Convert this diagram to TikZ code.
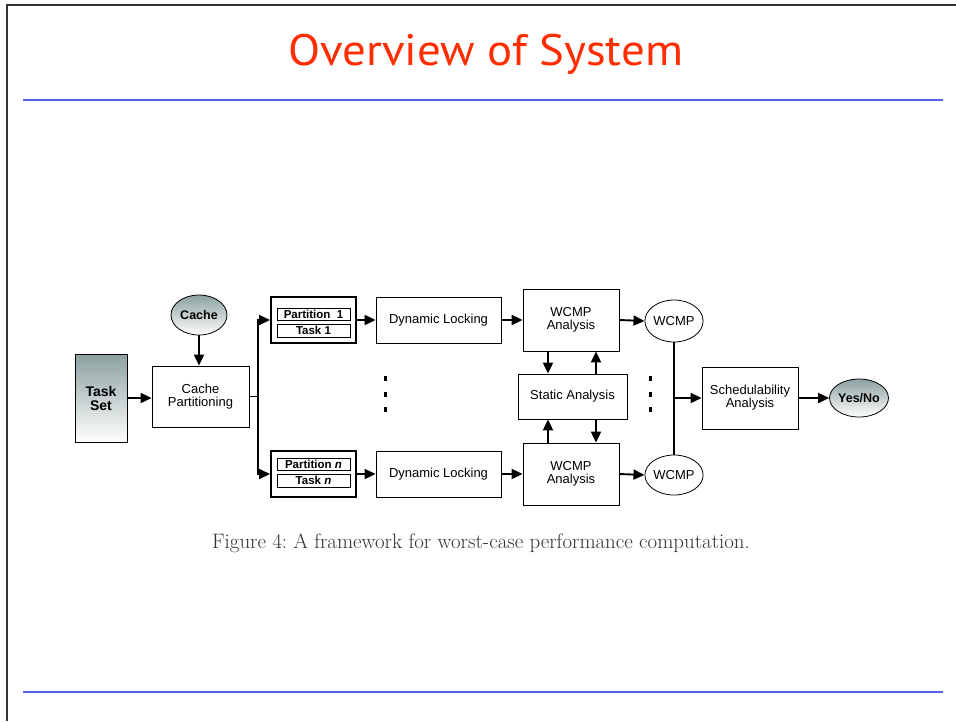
\documentclass[tikz,border=0pt]{standalone}
\usepackage{fontspec}
\usetikzlibrary{arrows.meta,shapes.geometric}
\newfontfamily\hvfont{Liberation Sans}
\newfontfamily\titlefont{PT Sans}
\definecolor{titlered}{RGB}{255,45,0}
\definecolor{ruleblue}{RGB}{85,100,230}
\definecolor{shadetop}{RGB}{140,160,160}
\tikzset{
  arr/.style={line width=1.9pt,-{Triangle[length=11pt,width=10pt]}},
  conn/.style={line width=1.9pt},
  box/.style={draw,line width=0.8pt,inner sep=0pt,align=center,font=\hvfont\fontsize{13}{13}\selectfont},
  partbox/.style={draw,line width=2pt,inner sep=0pt},
  inbox/.style={draw,line width=1pt,inner sep=0pt,font=\hvfont\bfseries\fontsize{11.5}{12}\selectfont},
  oval/.style={draw,ellipse,line width=0.8pt,inner sep=0pt,font=\hvfont\fontsize{13}{12}\selectfont},
  shadedoval/.style={oval,top color=shadetop,bottom color=white,font=\hvfont\bfseries\fontsize{12.5}{12}\selectfont},
}
\begin{document}
\begin{tikzpicture}[x=1pt,y=-1pt]
\useasboundingbox (0,0) rectangle (956,721);
\fill[white] (0,0) rectangle (956,721);
% frame
\draw[line width=1.5pt,black!80] (7,721) -- (7,5) -- (956,5);
\draw[line width=2pt,ruleblue] (23,100) -- (943,100);
\draw[line width=2pt,ruleblue] (23,692) -- (943,692);
\node[font=\titlefont\fontsize{44}{44}\selectfont,text=titlered,xscale=1.065] (title) at (486,54) {Overview of System};
% nodes
\node[box,minimum width=52,minimum height=88,top color=shadetop,bottom color=white,font=\hvfont\bfseries\fontsize{14}{14}\selectfont] (ts) at (101,398) {Task\\Set};
\node[shadedoval,minimum width=56,minimum height=40] (cache) at (199,315) {Cache};
\node[box,minimum width=97,minimum height=61] (cp) at (200.5,396.5) {Cache\\Partitioning};
\node[partbox,minimum width=85,minimum height=46] (p1) at (313.5,320) {};
\node[inbox,minimum width=73,minimum height=12] (p1a) at (313.5,314.5) {Partition\ \ 1};
\node[inbox,minimum width=73,minimum height=13] (p1b) at (313.5,330.5) {Task 1};
\node[partbox,minimum width=85,minimum height=46] (pn) at (313.5,474) {};
\node[inbox,minimum width=73,minimum height=12] (pna) at (313.5,464.5) {Partition \textit{n}};
\node[inbox,minimum width=73,minimum height=13] (pnb) at (313.5,480.5) {Task \textit{n}};
\node[box,minimum width=125,minimum height=46] (dl1) at (438.5,320) {Dynamic Locking};
\node[box,minimum width=125,minimum height=46] (dl2) at (438.5,474) {Dynamic Locking};
\node[box,minimum width=96,minimum height=62] (wa1) at (571,320) {WCMP\\Analysis};
\node[box,minimum width=96,minimum height=62] (wa2) at (571,474) {WCMP\\Analysis};
\node[box,minimum width=109,minimum height=45] (sa) at (572.5,396.5) {Static Analysis};
\node[oval,minimum width=58,minimum height=42] (w1) at (674,321) {WCMP};
\node[oval,minimum width=58,minimum height=40] (w2) at (674,475) {WCMP};
\node[box,minimum width=96,minimum height=62] (sch) at (750,398) {Schedulability\\Analysis};
\node[shadedoval,minimum width=58,minimum height=38] (yn) at (859,398) {Yes/No};
\coordinate (br) at (258,396.5);
% connectors
\draw[arr] (ts.east) -- (cp.west |- ts.east);
\draw[arr] (cache.south) -- (cache.south |- cp.north);
\draw[conn] (cp.east) -- (br);
\draw[arr] (br) |- (p1.west);
\draw[arr] (br) |- (pn.west);
\draw[arr] (p1.east) -- (dl1.west);
\draw[arr] (pn.east) -- (dl2.west);
\draw[arr] (dl1.east) -- (wa1.west);
\draw[arr] (dl2.east) -- (wa2.west);
\draw[arr] (wa1.east) -- (w1.west);
\draw[arr] (wa2.east) -- (w2.west);
\draw[arr] ([xshift=-23pt]wa1.south) -- ([xshift=-23pt]wa1.south |- sa.north);
\draw[arr] ([xshift=25pt]wa1.south |- sa.north) -- ([xshift=25pt]wa1.south);
\draw[arr] ([xshift=-23pt]wa2.north) -- ([xshift=-23pt]wa2.north |- sa.south);
\draw[arr] ([xshift=25pt]wa2.north |- sa.south) -- ([xshift=25pt]wa2.north);
\draw[conn] (w1.south) -- (w2.north);
\draw[arr] (w1.south |- sch.west) -- (sch.west);
\draw[arr] (sch.east) -- (yn.west);
% dots
\foreach \yy in {378,394,409} {
  \fill (384,\yy-2.5) rectangle (386.5,\yy+2.5);
  \fill (649,\yy-2.5) rectangle (651.5,\yy+2.5);
}
% caption
\node[font=\fontsize{20.9}{24}\selectfont,text=black!80] (cap) at (481,543) {Figure 4:\ A framework for worst-case performance computation.};
\end{tikzpicture}
\end{document}
